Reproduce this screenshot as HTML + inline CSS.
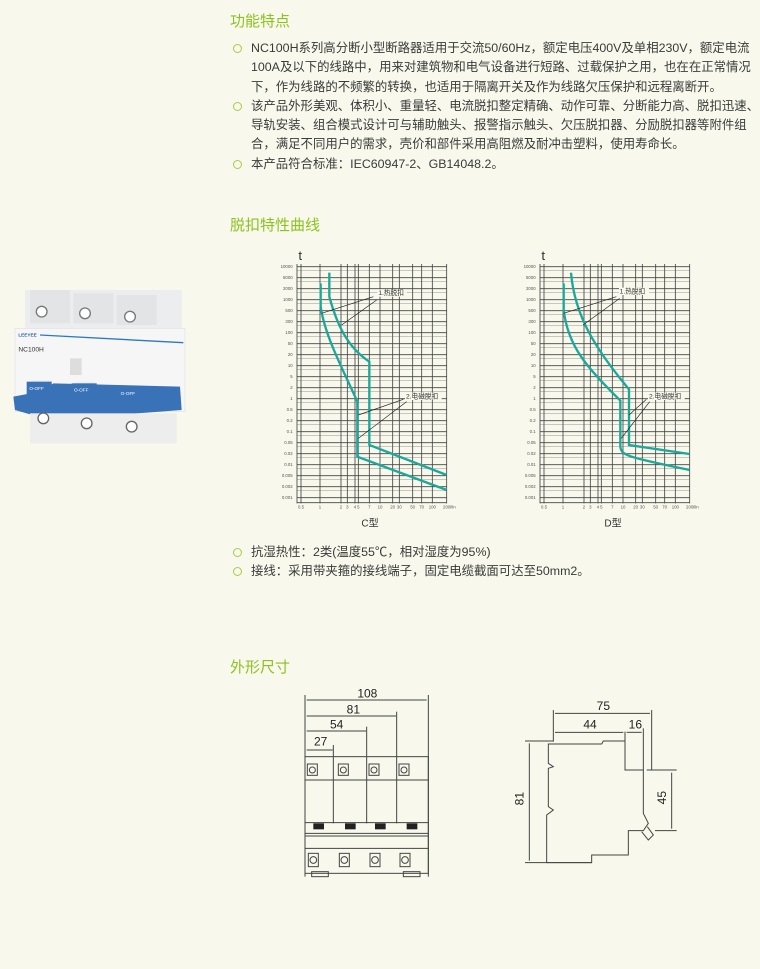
<!DOCTYPE html>
<html><head><meta charset="utf-8"><style>
body{margin:0;width:760px;height:969px;background:#f8f8ec;position:relative;overflow:hidden;font-family:"Liberation Sans","Noto Sans CJK SC",sans-serif;color:#3a3a3a}
.h{position:absolute;left:230px;font-size:15px;color:#8cc21f}
.p{position:absolute;left:233px;width:530px;font-size:12.4px;line-height:19.3px;white-space:nowrap}
.p div{position:relative;padding-left:18px}
.p div.b:before{content:"";position:absolute;left:0;top:5px;width:7px;height:7px;border:1.3px solid #a8cc40;border-radius:50%}
svg{position:absolute}
</style></head><body>
<div class="h" style="top:10px">功能特点</div>
<div class="p" style="top:39px">
<div class="b">NC100H系列高分断小型断路器适用于交流50/60Hz，额定电压400V及单相230V，额定电流<br>100A及以下的线路中，用来对建筑物和电气设备进行短路、过载保护之用，也在在正常情况<br>下，作为线路的不频繁的转换，也适用于隔离开关及作为线路欠压保护和远程离断开。</div>
<div class="b">该产品外形美观、体积小、重量轻、电流脱扣整定精确、动作可靠、分断能力高、脱扣迅速、<br>导轨安装、组合模式设计可与辅助触头、报警指示触头、欠压脱扣器、分励脱扣器等附件组<br>合，满足不同用户的需求，壳价和部件采用高阻燃及耐冲击塑料，使用寿命长。</div>
<div class="b">本产品符合标准：IEC60947-2、GB14048.2。</div>
</div>
<div class="h" style="top:214px">脱扣特性曲线</div>

<svg style="left:0;top:270px" width="200" height="180" viewBox="0 0 600 540">
<rect x="75" y="60" width="470" height="360" fill="#ecedef"/>
<rect x="90" y="60" width="120" height="100" fill="#e3e4e6"/><rect x="220" y="70" width="120" height="90" fill="#e3e4e6"/><rect x="350" y="75" width="120" height="90" fill="#e3e4e6"/>
<circle cx="125" cy="125" r="16" fill="#fff" stroke="#777" stroke-width="4"/><circle cx="255" cy="130" r="16" fill="#fff" stroke="#777" stroke-width="4"/><circle cx="390" cy="140" r="16" fill="#fff" stroke="#777" stroke-width="4"/>
<rect x="45" y="175" width="510" height="250" fill="#f6f6f7" stroke="#ccc"/>
<text x="55" y="200" font-size="14" fill="#2a5aa8" font-weight="bold">LEEYEE</text>
<line x1="120" y1="195" x2="550" y2="218" stroke="#2a7ac0" stroke-width="4"/>
<text x="55" y="245" font-size="20" fill="#333">NC100H</text>
<rect x="210" y="265" width="35" height="50" fill="#ddd"/>
<rect x="95" y="330" width="60" height="60" fill="#eee"/><rect x="225" y="335" width="60" height="60" fill="#eee"/><rect x="360" y="345" width="60" height="60" fill="#eee"/>
<path d="M40 380 L120 365 L160 340 L540 350 L545 420 L150 450 L45 420Z" fill="#3a72b8"/>
<rect x="80" y="335" width="75" height="40" fill="#3a72b8"/><rect x="215" y="340" width="75" height="40" fill="#3a72b8"/><rect x="355" y="350" width="75" height="40" fill="#3a72b8"/>
<text x="88" y="360" font-size="14" fill="#fff">O-OFF</text><text x="222" y="365" font-size="14" fill="#fff">O-OFF</text><text x="362" y="375" font-size="14" fill="#fff">O-OFF</text>
<rect x="90" y="430" width="440" height="90" fill="#ededee"/>
<circle cx="130" cy="445" r="16" fill="#fff" stroke="#666" stroke-width="4"/><circle cx="260" cy="460" r="16" fill="#fff" stroke="#666" stroke-width="4"/><circle cx="395" cy="470" r="16" fill="#fff" stroke="#666" stroke-width="4"/>
</svg>

<svg style="left:270px;top:250px" width="200" height="280" viewBox="0 0 600 840">
<g id="grid" font-size="13" fill="#555" stroke-width="0">
<text x="85" y="30" font-size="40" fill="#333">t</text>
<g stroke="#444" stroke-width="2.5">
<line x1="81" x2="530" y1="50" y2="50"/><line x1="81" x2="530" y1="83" y2="83"/><line x1="81" x2="530" y1="116" y2="116"/><line x1="81" x2="530" y1="149" y2="149"/><line x1="81" x2="530" y1="182" y2="182"/><line x1="81" x2="530" y1="215" y2="215"/><line x1="81" x2="530" y1="248" y2="248"/><line x1="81" x2="530" y1="281" y2="281"/><line x1="81" x2="530" y1="314" y2="314"/><line x1="81" x2="530" y1="347" y2="347"/><line x1="81" x2="530" y1="380" y2="380"/><line x1="81" x2="530" y1="413" y2="413"/><line x1="81" x2="530" y1="446" y2="446"/><line x1="81" x2="530" y1="479" y2="479"/><line x1="81" x2="530" y1="512" y2="512"/><line x1="81" x2="530" y1="545" y2="545"/><line x1="81" x2="530" y1="578" y2="578"/><line x1="81" x2="530" y1="611" y2="611"/><line x1="81" x2="530" y1="644" y2="644"/><line x1="81" x2="530" y1="677" y2="677"/><line x1="81" x2="530" y1="710" y2="710"/><line x1="81" x2="530" y1="743" y2="743"/><line x1="81" x2="530" y1="758" y2="758"/>
</g>
<g stroke="#666" stroke-width="1">
<line x1="81" x2="530" y1="62" y2="62"/><line x1="81" x2="530" y1="95" y2="95"/><line x1="81" x2="530" y1="128" y2="128"/><line x1="81" x2="530" y1="161" y2="161"/><line x1="81" x2="530" y1="194" y2="194"/><line x1="81" x2="530" y1="227" y2="227"/><line x1="81" x2="530" y1="260" y2="260"/><line x1="81" x2="530" y1="293" y2="293"/><line x1="81" x2="530" y1="326" y2="326"/><line x1="81" x2="530" y1="359" y2="359"/><line x1="81" x2="530" y1="392" y2="392"/><line x1="81" x2="530" y1="425" y2="425"/><line x1="81" x2="530" y1="458" y2="458"/><line x1="81" x2="530" y1="491" y2="491"/><line x1="81" x2="530" y1="524" y2="524"/><line x1="81" x2="530" y1="557" y2="557"/><line x1="81" x2="530" y1="590" y2="590"/><line x1="81" x2="530" y1="623" y2="623"/><line x1="81" x2="530" y1="656" y2="656"/><line x1="81" x2="530" y1="689" y2="689"/><line x1="81" x2="530" y1="722" y2="722"/>
</g>
<g stroke="#444" stroke-width="2.5">
<line x1="81" x2="81" y1="42" y2="760"/><line x1="93" x2="93" y1="42" y2="760"/><line x1="150" x2="150" y1="42" y2="760"/><line x1="213" x2="213" y1="42" y2="760"/><line x1="232" x2="232" y1="42" y2="760"/><line x1="255" x2="255" y1="42" y2="760"/><line x1="265" x2="265" y1="42" y2="760"/><line x1="298" x2="298" y1="42" y2="760"/><line x1="330" x2="330" y1="42" y2="760"/><line x1="368" x2="368" y1="42" y2="760"/><line x1="388" x2="388" y1="42" y2="760"/><line x1="428" x2="428" y1="42" y2="760"/><line x1="455" x2="455" y1="42" y2="760"/><line x1="487" x2="487" y1="42" y2="760"/><line x1="530" x2="530" y1="42" y2="760"/>
</g>
<g text-anchor="end"><text x="68" y="54">10000</text><text x="68" y="87">5000</text><text x="68" y="120">2000</text><text x="68" y="153">1000</text><text x="68" y="186">500</text><text x="68" y="219">300</text><text x="68" y="252">100</text><text x="68" y="285">50</text><text x="68" y="318">20</text><text x="68" y="351">10</text><text x="68" y="384">5</text><text x="68" y="417">2</text><text x="68" y="450">1</text><text x="68" y="483">0.5</text><text x="68" y="516">0.2</text><text x="68" y="549">0.1</text><text x="68" y="582">0.05</text><text x="68" y="615">0.02</text><text x="68" y="648">0.01</text><text x="68" y="681">0.005</text><text x="68" y="714">0.002</text><text x="68" y="747">0.001</text></g>
<g text-anchor="middle"><text x="93" y="775">0.5</text><text x="150" y="775">1</text><text x="213" y="775">2</text><text x="232" y="775">3</text><text x="255" y="775">4</text><text x="265" y="775">5</text><text x="298" y="775">7</text><text x="330" y="775">10</text><text x="368" y="775">20</text><text x="388" y="775">30</text><text x="428" y="775">50</text><text x="455" y="775">70</text><text x="487" y="775">100</text><text x="530" y="775">200</text><text x="548" y="775">I/In</text></g>
</g>
<g fill="none" stroke="#1aa89a" stroke-width="7">
<path d="M152 100 L152 170 C165 260 220 360 262 455 L262 620 L530 720"/>
<path d="M178 68 L178 140 C200 220 230 290 298 335 L298 585 L530 675"/>
</g>
<g stroke="#222" stroke-width="2"><line x1="155" y1="190" x2="310" y2="140"/><line x1="215" y1="225" x2="320" y2="150"/><line x1="265" y1="495" x2="400" y2="448"/><line x1="265" y1="565" x2="410" y2="455"/></g>
<rect x="322" y="118" width="88" height="22" fill="#f8f8ec"/><text x="325" y="135" font-size="20" fill="#333">1.热脱扣</text>
<rect x="405" y="428" width="110" height="22" fill="#f8f8ec"/><text x="408" y="445" font-size="20" fill="#333">2.电磁脱扣</text>
<text x="300" y="830" font-size="30" text-anchor="middle" fill="#333">C型</text>
</svg>

<svg style="left:513px;top:250px" width="200" height="280" viewBox="0 0 600 840">
<use href="#grid"/>
<g fill="none" stroke="#1aa89a" stroke-width="7">
<path d="M152 100 L152 180 C165 290 220 350 322 452 L322 590 C325 615 335 620 530 660"/>
<path d="M174 68 C185 200 250 300 348 418 L348 585 L530 612"/>
</g>
<g stroke="#222" stroke-width="2"><line x1="152" y1="190" x2="310" y2="140"/><line x1="210" y1="225" x2="320" y2="145"/><line x1="348" y1="495" x2="400" y2="448"/><line x1="325" y1="565" x2="410" y2="455"/></g>
<rect x="318" y="113" width="90" height="22" fill="#f8f8ec"/><text x="320" y="130" font-size="20" fill="#333">1.热脱扣</text>
<rect x="405" y="428" width="110" height="22" fill="#f8f8ec"/><text x="408" y="445" font-size="20" fill="#333">2.电磁脱扣</text>
<text x="300" y="830" font-size="30" text-anchor="middle" fill="#333">D型</text>
</svg>

<div class="p" style="top:543px">
<div class="b">抗湿热性：2类(温度55℃，相对湿度为95%)</div>
<div class="b">接线：采用带夹箍的接线端子，固定电缆截面可达至50mm2。</div>
</div>
<div class="h" style="top:656px">外形尺寸</div>

<svg style="left:290px;top:680px" width="400" height="200" viewBox="0 0 1200 600" fill="none" stroke="#444" stroke-width="3" font-family="Liberation Sans">
<g fill="#222" stroke="none" font-size="36" text-anchor="middle"><text x="232" y="52">108</text><text x="190" y="100">81</text><text x="140" y="146">54</text><text x="92" y="196">27</text>
<text x="940" y="90">75</text><text x="900" y="145">44</text><text x="1036" y="145">16</text>
<text x="712" y="368" transform="rotate(-90 700 368)">81</text><text x="1140" y="365" transform="rotate(-90 1128 365)">45</text></g>
<line x1="45" y1="45" x2="45" y2="590"/><line x1="415" y1="45" x2="415" y2="590"/>
<line x1="50" y1="60" x2="410" y2="60"/><line x1="50" y1="108" x2="318" y2="108"/><line x1="50" y1="153" x2="228" y2="153"/><line x1="50" y1="210" x2="128" y2="210"/>
<line x1="320" y1="95" x2="320" y2="430"/><line x1="230" y1="140" x2="230" y2="430"/><line x1="130" y1="195" x2="130" y2="430"/>
<rect x="45" y="230" width="370" height="350"/><line x1="45" y1="300" x2="415" y2="300"/><line x1="45" y1="428" x2="415" y2="428"/><line x1="45" y1="460" x2="415" y2="460"/><line x1="45" y1="468" x2="415" y2="468"/><line x1="45" y1="505" x2="415" y2="505"/>
<g fill="#222" stroke="none"><rect x="70" y="430" width="32" height="18"/><rect x="165" y="430" width="32" height="18"/><rect x="255" y="430" width="32" height="18"/><rect x="350" y="430" width="32" height="18"/></g>
<g><rect x="52" y="252" width="30" height="34"/><circle cx="67" cy="270" r="9"/><rect x="145" y="252" width="30" height="34"/><circle cx="160" cy="270" r="9"/><rect x="237" y="252" width="30" height="34"/><circle cx="252" cy="270" r="9"/><rect x="327" y="252" width="30" height="34"/><circle cx="342" cy="270" r="9"/>
<rect x="55" y="520" width="30" height="40"/><circle cx="70" cy="540" r="10"/><rect x="148" y="520" width="30" height="40"/><circle cx="163" cy="540" r="10"/><rect x="240" y="520" width="30" height="40"/><circle cx="255" cy="540" r="10"/><rect x="330" y="520" width="30" height="40"/><circle cx="345" cy="540" r="10"/>
<rect x="65" y="575" width="50" height="15"/><rect x="340" y="575" width="50" height="15"/></g>
<line x1="790" y1="90" x2="790" y2="185"/><line x1="1085" y1="90" x2="1085" y2="270"/><line x1="1060" y1="145" x2="1060" y2="270"/><line x1="1005" y1="155" x2="1005" y2="185"/>
<line x1="795" y1="100" x2="1080" y2="100"/><line x1="795" y1="157" x2="1000" y2="157"/><line x1="1010" y1="157" x2="1055" y2="157"/>
<line x1="705" y1="183" x2="790" y2="183"/><line x1="705" y1="548" x2="905" y2="548"/><line x1="718" y1="190" x2="718" y2="542"/>
<line x1="1070" y1="270" x2="1160" y2="270"/><line x1="1095" y1="452" x2="1160" y2="452"/><line x1="1145" y1="278" x2="1145" y2="446"/>
<path d="M775 192 L935 192 L940 183 L1005 183 L1005 270 L1060 270 L1060 400 L1075 430 L1060 452 L1015 452 L1015 525 L905 525 L905 548 L770 548 L770 405 L790 390 L775 380 L775 265 L790 260 L775 250Z"/>
<path d="M1055 455 L1075 480 L1090 465 L1072 440"/>
</svg>
</body></html>
